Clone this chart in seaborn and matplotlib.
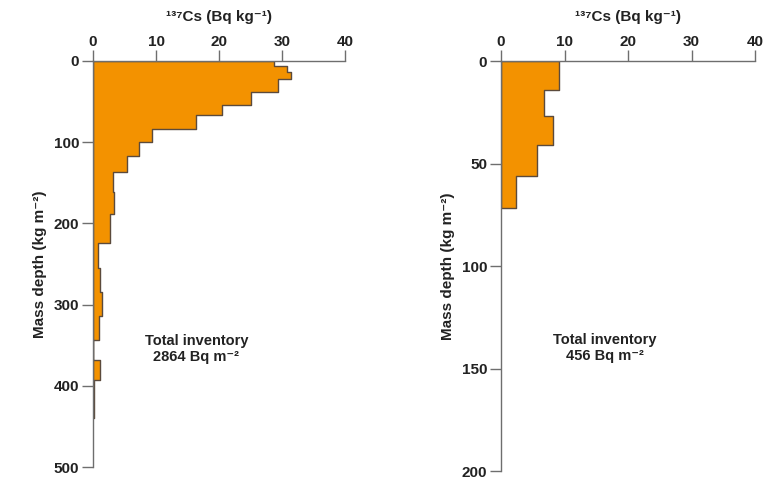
import numpy as np
import seaborn as sns
import matplotlib.pyplot as plt

# 137Cs profiles (Bq/kg) per mass-depth layer (kg/m2)
left_edges = [0, 6, 13, 22.5, 38, 54, 67, 84, 100, 117, 137, 161, 188, 224, 255, 284, 314, 343, 368, 393, 440]
left_cs = [28.7, 30.8, 31.5, 29.4, 25.0, 20.4, 16.4, 9.4, 7.3, 5.4, 3.1, 3.3, 2.7, 0.85, 1.1, 1.5, 1.0, 0.0, 1.1, 0.1]
right_edges = [0, 14, 27, 41, 56, 71.5]
right_cs = [9.1, 6.8, 8.2, 5.6, 2.4]
inventories = ["2864", "456"]
depth_max = [500, 200]
depth_ticks = [[0, 100, 200, 300, 400, 500], [0, 50, 100, 150, 200]]
cs_ticks = [0, 10, 20, 30, 40]

sns.set_theme(style="ticks")
plt.rcParams['font.family'] = ['Liberation Sans', 'DejaVu Sans']
plt.rcParams['font.weight'] = 'bold'

FILL = "#F39200"
EDGE = "#5b4a3c"
AXC = "#6e6e6e"

fig = plt.figure(figsize=(7.74, 4.78), dpi=100)
ax1 = fig.add_axes([0.1202, 0.0230, 0.3256, 0.8494])
ax2 = fig.add_axes([0.6473, 0.0146, 0.3282, 0.8577])

panels = [(ax1, left_edges, left_cs), (ax2, right_edges, right_cs)]
for i, (ax, edges, vals) in enumerate(panels):
    mids = [(a + b) / 2 for a, b in zip(edges[:-1], edges[1:])]
    sns.histplot(y=mids, weights=vals, bins=edges, element="step", fill=True,
                 color=FILL, alpha=1, edgecolor=EDGE, linewidth=1.0, ax=ax)
    ax.set_xlim(0, 40)
    ax.set_ylim(depth_max[i], 0)
    ax.set_xticks(cs_ticks)
    ax.set_yticks(depth_ticks[i])
    ax.xaxis.tick_top()
    ax.xaxis.set_label_position("top")
    for s in ["right", "bottom"]:
        ax.spines[s].set_visible(False)
    for s in ["left", "top"]:
        ax.spines[s].set_color(AXC)
        ax.spines[s].set_linewidth(1.0)
    ax.tick_params(axis="both", colors=AXC, labelcolor="#222222", length=8, width=1.0,
                   labelsize=11)
    ax.tick_params(axis="x", pad=0.5)
    ax.tick_params(axis="y", pad=2)
    for lab in ax.get_xticklabels() + ax.get_yticklabels():
        lab.set_fontweight("bold")
    ax.set_xlabel("¹³⁷Cs (Bq kg⁻¹)", fontsize=11, fontweight="bold", labelpad=10, color="#222222")
    ax.set_ylabel("Mass depth (kg m⁻²)", fontsize=11, fontweight="bold", labelpad=5, color="#222222")
    ax.text(0.41, 0.29 if i == 0 else 0.30, f"Total inventory\n{inventories[i]} Bq m⁻²",
            transform=ax.transAxes, ha="center", va="center", fontsize=10.5,
            fontweight="bold", color="#222222", linespacing=1.2)
    ax.set_facecolor("white")

fig.savefig("out.png", dpi=100)
